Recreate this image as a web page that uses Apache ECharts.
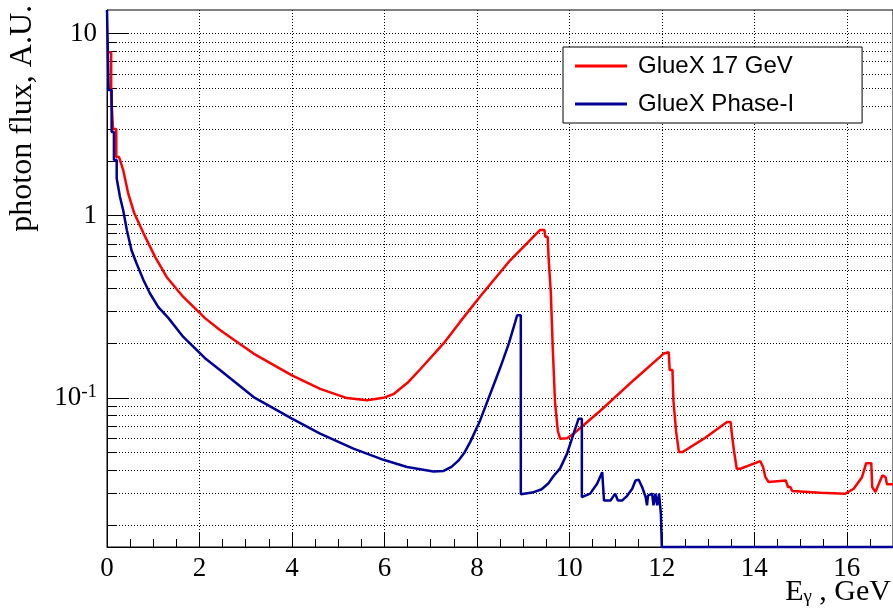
<!DOCTYPE html>
<html>
<head>
<meta charset="utf-8">
<script src="https://cdn.jsdelivr.net/npm/echarts@6/dist/echarts.min.js"></script>
<style>
html,body{margin:0;padding:0;background:#fff;}
#c{width:893px;height:609px;}
</style>
</head>
<body>
<div id="c"></div>
<script>
// ---- data (E in GeV, flux in A.U.) ----
const seriesNames = ['GlueX 17 GeV', 'GlueX Phase-I'];

const redX = [0, 0.09, 0.09, 0.13, 0.13, 0.2, 0.2, 0.26, 0.35, 0.46, 0.59, 0.79, 1.04, 1.29, 1.65, 2.12, 2.45, 3.17, 4.0, 4.61, 5.19, 5.62, 5.98, 6.2, 6.5, 6.78, 7.28, 7.64, 8.07, 8.72, 9.37, 9.46, 9.48, 9.53, 9.55, 9.59, 9.6, 9.63, 9.64, 9.68, 9.69, 9.73, 9.75, 9.78, 9.8, 9.95, 10.09, 10.67, 11.39, 12.04, 12.08, 12.15, 12.17, 12.23, 12.25, 12.29, 12.31, 12.35, 12.37, 12.45, 12.91, 13.41, 13.49, 13.51, 13.54, 13.56, 13.6, 13.62, 13.7, 14.13, 14.17, 14.19, 14.22, 14.24, 14.28, 14.31, 14.68, 14.71, 14.73, 14.78, 14.82, 15.43, 15.97, 16.15, 16.33, 16.42, 16.53, 16.55, 16.62, 16.65, 16.71, 16.77, 16.84, 16.87, 17.0];
const redY = [7.9, 7.9, 4.65, 4.65, 2.99, 2.99, 2.1, 2.1, 1.78, 1.32, 1.03, 0.8, 0.594, 0.461, 0.358, 0.274, 0.235, 0.175, 0.133, 0.112, 0.0997, 0.097, 0.1, 0.105, 0.121, 0.144, 0.199, 0.262, 0.36, 0.569, 0.835, 0.835, 0.766, 0.766, 0.594, 0.594, 0.374, 0.374, 0.19, 0.19, 0.095, 0.095, 0.066, 0.066, 0.0597, 0.06, 0.0635, 0.085, 0.125, 0.175, 0.178, 0.178, 0.142, 0.142, 0.097, 0.097, 0.065, 0.065, 0.0504, 0.0504, 0.0597, 0.0736, 0.0736, 0.0649, 0.0649, 0.0514, 0.0514, 0.0408, 0.0408, 0.0449, 0.0449, 0.0417, 0.0417, 0.0367, 0.0367, 0.0345, 0.0352, 0.0352, 0.0324, 0.0324, 0.0308, 0.0301, 0.0298, 0.0317, 0.0367, 0.0438, 0.0438, 0.0324, 0.0304, 0.0304, 0.0345, 0.0375, 0.0367, 0.0335, 0.0335];

const blueX = [0, 0.035, 0.035, 0.1, 0.1, 0.15, 0.15, 0.21, 0.21, 0.28, 0.35, 0.43, 0.53, 0.64, 0.79, 0.93, 1.11, 1.33, 1.65, 2.12, 2.45, 3.17, 4.0, 4.61, 5.33, 5.98, 6.49, 7.06, 7.28, 7.45, 7.6, 7.74, 7.86, 8.07, 8.29, 8.51, 8.69, 8.83, 8.87, 8.95, 8.95, 9.2, 9.4, 9.55, 9.65, 9.8, 9.95, 10.09, 10.2, 10.27, 10.27, 10.45, 10.6, 10.71, 10.75, 10.75, 10.89, 10.99, 11.03, 11.05, 11.14, 11.25, 11.36, 11.43, 11.5, 11.58, 11.65, 11.68, 11.7, 11.79, 11.82, 11.86, 11.9, 11.94, 11.98, 12.0, 12.0, 17.0];
const blueY = [30, 30, 4.89, 4.89, 2.88, 2.88, 2.02, 2.02, 1.6, 1.27, 1.07, 0.832, 0.646, 0.546, 0.442, 0.374, 0.315, 0.274, 0.216, 0.165, 0.1416, 0.101, 0.0769, 0.0636, 0.0526, 0.0457, 0.0417, 0.0394, 0.0397, 0.0418, 0.0452, 0.0505, 0.0575, 0.0752, 0.1054, 0.1476, 0.1985, 0.261, 0.284, 0.284, 0.0296, 0.0302, 0.0315, 0.034, 0.037, 0.041, 0.0494, 0.0635, 0.0769, 0.0769, 0.0285, 0.0298, 0.0338, 0.0391, 0.0391, 0.0273, 0.0273, 0.0298, 0.0304, 0.0273, 0.0273, 0.029, 0.0317, 0.0352, 0.0355, 0.0321, 0.0285, 0.0257, 0.0291, 0.0298, 0.0257, 0.0298, 0.0257, 0.0298, 0.0231, 0.0231, 0, 0];

// axes
const xMajorTicks = [0, 2, 4, 6, 8, 10, 12, 14, 16];
const xMinorTicks = [0.5, 1, 1.5, 2.5, 3, 3.5, 4.5, 5, 5.5, 6.5, 7, 7.5, 8.5, 9, 9.5, 10.5, 11, 11.5, 12.5, 13, 13.5, 14.5, 15, 15.5, 16.5];
const yMajorTicks = [0.1, 1, 10];
const yMajorLabels = ['{b|10}{s|-1}', '{b|1}', '{b|10}'];
const yGridTicks = [0.02, 0.03, 0.04, 0.05, 0.06, 0.07, 0.08, 0.09, 0.1, 0.2, 0.3, 0.4, 0.5, 0.6, 0.7, 0.8, 0.9, 1, 2, 3, 4, 5, 6, 7, 8, 9, 10];
const X_MIN = 0, X_MAX = 17;
const Y_MIN = 0.01518, Y_MAX = 13.46;

const SERIF = '"Liberation Serif", "DejaVu Serif", serif';
const SANS = '"Liberation Sans", Arial, sans-serif';

// histogram values outside the frame are drawn on its edge (as ROOT does)
function pairs(xs, ys) {
  return xs.map((x, i) => [x, Math.min(Math.max(ys[i], Y_MIN), Y_MAX)]);
}

const chart = echarts.init(document.getElementById('c'), null, {renderer: 'canvas'});
const dotted = {color: '#000', width: 1, type: [1, 2]};

chart.setOption({
  animation: false,
  backgroundColor: '#fff',
  grid: {left: 107, top: 10, width: 786, height: 537, show: true, borderColor: '#000', borderWidth: 1, backgroundColor: 'transparent'},
  xAxis: [
    {
      type: 'value', min: X_MIN, max: X_MAX, interval: 2, position: 'bottom',
      axisLine: {show: true, lineStyle: {color: '#000', width: 1}},
      axisTick: {show: true, inside: true, length: 15, lineStyle: {color: '#000'}, customValues: xMajorTicks},
      axisLabel: {show: true, customValues: xMajorTicks, color: '#000', fontSize: 27, fontFamily: SERIF, margin: 8},
      splitLine: {show: true, lineStyle: dotted}
    },
    {
      type: 'value', min: X_MIN, max: X_MAX, position: 'bottom',
      axisLine: {show: false},
      axisTick: {show: true, inside: true, length: 8, lineStyle: {color: '#000'}, customValues: xMinorTicks},
      axisLabel: {show: false},
      splitLine: {show: false}
    }
  ],
  yAxis: [
    {
      type: 'log', min: Y_MIN, max: Y_MAX, position: 'left',
      axisLine: {show: true, lineStyle: {color: '#000', width: 1}},
      axisTick: {show: true, inside: true, length: 21, lineStyle: {color: '#000'}, customValues: yMajorTicks},
      axisLabel: {
        show: true, customValues: yMajorTicks, margin: 10,
        formatter: function (v) {
          let best = 0;
          yMajorTicks.forEach((t, i) => { if (Math.abs(Math.log10(t) - Math.log10(v)) < Math.abs(Math.log10(yMajorTicks[best]) - Math.log10(v))) best = i; });
          return yMajorLabels[best];
        },
        rich: {
          b: {fontSize: 27, fontFamily: SERIF, color: '#000', lineHeight: 30},
          s: {fontSize: 19, fontFamily: SERIF, color: '#000', lineHeight: 12, verticalAlign: 'top'}
        }
      },
      splitLine: {show: false}
    },
    {
      type: 'log', min: Y_MIN, max: Y_MAX, position: 'left',
      axisLine: {show: false},
      axisTick: {show: true, inside: true, length: 10, lineStyle: {color: '#000'}, customValues: yGridTicks},
      axisLabel: {show: false},
      splitLine: {show: true, lineStyle: dotted}
    }
  ],
  legend: {
    data: seriesNames,
    orient: 'vertical',
    left: 563, top: 47,
    padding: [7, 68, 7, 12],
    itemGap: 14,
    itemWidth: 52, itemHeight: 3,
    icon: 'rect',
    backgroundColor: '#fff',
    borderColor: '#000', borderWidth: 1, borderRadius: 0,
    textStyle: {fontSize: 24, fontFamily: SANS, color: '#000', lineHeight: 24, padding: [0, 0, 0, 6]}
  },
  graphic: [
    {
      type: 'text', x: 23, y: 5, rotation: Math.PI / 2,
      style: {text: 'photon flux, A.U.', fontSize: 32, fontFamily: SERIF, fill: '#000', align: 'right', verticalAlign: 'middle', textAlign: 'right', textVerticalAlign: 'middle'}
    },
    {
      type: 'text', x: 891, y: 592,
      style: {
        text: '{a|E}{g|γ}{a| , GeV}',
        align: 'right', verticalAlign: 'middle', textAlign: 'right', textVerticalAlign: 'middle',
        rich: {
          a: {fontSize: 30, fontFamily: SERIF, fill: '#000', color: '#000', lineHeight: 30},
          g: {fontSize: 19, fontFamily: SERIF, fill: '#000', color: '#000', lineHeight: 14, verticalAlign: 'bottom'}
        }
      }
    }
  ],
  series: [
    {
      name: seriesNames[0], type: 'line', xAxisIndex: 0, yAxisIndex: 0,
      data: pairs(redX, redY), showSymbol: false, symbol: 'none',
      lineStyle: {color: '#ff0000', width: 2.5}, itemStyle: {color: '#ff0000'},
      clip: false, z: 3
    },
    {
      name: seriesNames[1], type: 'line', xAxisIndex: 0, yAxisIndex: 0,
      data: pairs(blueX, blueY), showSymbol: false, symbol: 'none',
      lineStyle: {color: '#000099', width: 2.5}, itemStyle: {color: '#000099'},
      clip: false, z: 4
    }
  ]
});
</script>
</body>
</html>
